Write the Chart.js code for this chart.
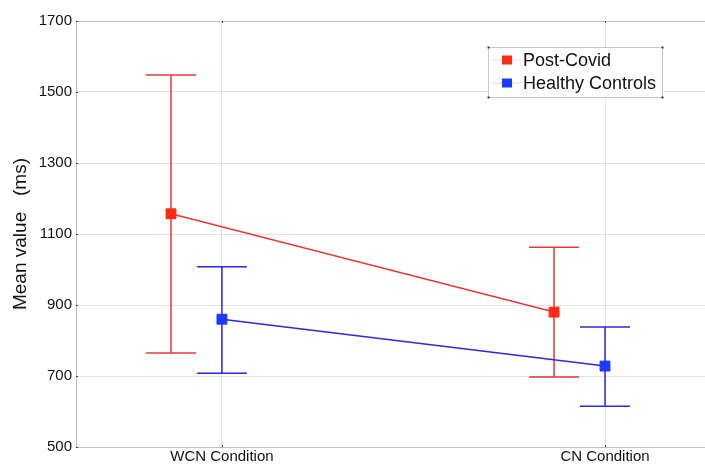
<!DOCTYPE html>
<html>
<head>
<meta charset="utf-8">
<script src="https://cdn.jsdelivr.net/npm/chart.js@4.4.1/dist/chart.umd.min.js"></script>
<style>
html,body{margin:0;padding:0;background:#fff;}
#wrap{width:705px;height:464px;}
</style>
</head>
<body>
<div id="wrap"><canvas id="c" width="705" height="464"></canvas></div>
<script>
const categories = ['WCN Condition', 'CN Condition'];
const categoryX = [1, 2];
const postCovidOffset = -0.133;
const postCovidMean = [1157, 880];
const postCovidUpper = [1548, 1063];
const postCovidLower = [765, 697];
const controlMean = [860, 728];
const controlUpper = [1008, 838];
const controlLower = [708, 615];
const yTicks = [500, 700, 900, 1100, 1300, 1500, 1700];

const RED_LINE = '#e33b36';
const RED_MARK = '#ff2a14';
const BLUE_LINE = '#2a2ad8';
const BLUE_MARK = '#1a3bff';
const FONT = '"Liberation Sans", Arial, Helvetica, sans-serif';

const seriesInfo = [
  {label: 'Post-Covid', mean: postCovidMean, up: postCovidUpper, lo: postCovidLower, off: postCovidOffset, line: RED_LINE, mark: RED_MARK},
  {label: 'Healthy Controls', mean: controlMean, up: controlUpper, lo: controlLower, off: 0, line: BLUE_LINE, mark: BLUE_MARK}
];

const datasets = seriesInfo.map(s => ({
  label: s.label,
  data: s.mean.map((v, i) => ({x: categoryX[i] + s.off, y: v})),
  showLine: true,
  borderColor: s.line,
  borderWidth: 1.5,
  pointStyle: 'rect',
  pointRadius: 7,
  pointHoverRadius: 7,
  pointBackgroundColor: s.mark,
  pointBorderColor: s.mark,
  pointBorderWidth: 1
}));

const errorBars = {
  id: 'errorBars',
  beforeDatasetsDraw(chart) {
    const {ctx, scales: {x, y}} = chart;
    ctx.save();
    seriesInfo.forEach(s => {
      ctx.strokeStyle = s.line;
      ctx.lineWidth = 1.5;
      s.mean.forEach((m, i) => {
        const px = x.getPixelForValue(categoryX[i] + s.off);
        const pu = y.getPixelForValue(s.up[i]);
        const pl = y.getPixelForValue(s.lo[i]);
        const hw = 25;
        ctx.beginPath();
        ctx.moveTo(px, pu); ctx.lineTo(px, pl);
        ctx.moveTo(px - hw, pu); ctx.lineTo(px + hw, pu);
        ctx.moveTo(px - hw, pl); ctx.lineTo(px + hw, pl);
        ctx.stroke();
      });
    });
    ctx.restore();
  }
};

const frame = {
  id: 'frame',
  beforeDatasetsDraw(chart) {
    const {ctx, chartArea: a, scales: {x, y}} = chart;
    ctx.save();
    ctx.strokeStyle = '#bdbdbd';
    ctx.lineWidth = 1;
    ctx.beginPath();
    ctx.moveTo(a.left, a.top + 0.5); ctx.lineTo(a.right, a.top + 0.5);
    ctx.stroke();
    ctx.strokeStyle = '#444';
    ctx.beginPath();
    yTicks.forEach(t => {
      const py = Math.round(y.getPixelForValue(t)) + 0.5;
      ctx.moveTo(a.left, py); ctx.lineTo(a.left + 2, py);
    });
    categoryX.forEach(c => {
      const px = Math.round(x.getPixelForValue(c)) + 0.5;
      ctx.moveTo(px, a.bottom); ctx.lineTo(px, a.bottom - 2);
      ctx.moveTo(px, a.top); ctx.lineTo(px, a.top + 2);
    });
    ctx.stroke();
    ctx.restore();
  }
};

const legendBox = {
  id: 'legendBox',
  afterDatasetsDraw(chart) {
    const {ctx, chartArea: a} = chart;
    const L = a.right - 217, T = a.top + 26, W = 174, H = 50;
    ctx.save();
    ctx.fillStyle = '#fff';
    ctx.fillRect(L, T, W, H);
    ctx.strokeStyle = '#c8c8c8';
    ctx.lineWidth = 1;
    ctx.strokeRect(L + 0.5, T + 0.5, W, H);
    ctx.fillStyle = '#333';
    [[L, T], [L + W, T], [L, T + H], [L + W, T + H]].forEach(([cx, cy]) => ctx.fillRect(cx - 0.5, cy - 0.5, 2, 2));
    seriesInfo.forEach((s, i) => {
      const cy = T + 13 + i * 23;
      ctx.strokeStyle = s.line;
      ctx.globalAlpha = 0.2;
      ctx.beginPath();
      ctx.moveTo(L + 3, cy); ctx.lineTo(L + 33, cy);
      ctx.stroke();
      ctx.globalAlpha = 1;
      ctx.fillStyle = s.mark;
      ctx.fillRect(L + 14, cy - 4.5, 10, 9);
      ctx.fillStyle = '#111';
      ctx.font = '18px ' + FONT;
      ctx.textBaseline = 'middle';
      ctx.textAlign = 'left';
      ctx.fillText(s.label, L + 35, cy + 1);
    });
    ctx.restore();
  }
};

new Chart(document.getElementById('c'), {
  type: 'scatter',
  data: {datasets},
  options: {
    responsive: false,
    animation: false,
    layout: {autoPadding: false, padding: {top: 21, right: 0, left: 0, bottom: 0}},
    plugins: {legend: {display: false}, tooltip: {enabled: false}},
    scales: {
      x: {
        type: 'linear',
        min: 0.619,
        max: 2.261,
        afterBuildTicks(s) { s.ticks = categoryX.map(v => ({value: v})); },
        afterFit(s) { s.height = 17; s.paddingLeft = 0; s.paddingRight = 0; },
        ticks: {
          callback: (v) => categories[categoryX.indexOf(v)] || '',
          color: '#111',
          font: {family: FONT, size: 15},
          padding: 1,
          maxRotation: 0,
          autoSkip: false
        },
        grid: {color: '#e2e2e2', drawTicks: false},
        border: {color: '#bdbdbd'}
      },
      y: {
        min: 500,
        max: 1700,
        afterBuildTicks(s) { s.ticks = yTicks.map(v => ({value: v})); },
        afterFit(s) { s.width = 76; s.paddingTop = 0; s.paddingBottom = 0; },
        ticks: {
          callback: (v) => String(v),
          color: '#111',
          font: {family: FONT, size: 15},
          padding: 4
        },
        title: {
          display: true,
          text: 'Mean value   (ms)',
          color: '#111',
          font: {family: FONT, size: 19},
          padding: {top: 9, bottom: 0}
        },
        grid: {color: '#e2e2e2', drawTicks: false},
        border: {color: '#bdbdbd'}
      }
    }
  },
  plugins: [frame, errorBars, legendBox]
});
</script>
</body>
</html>
